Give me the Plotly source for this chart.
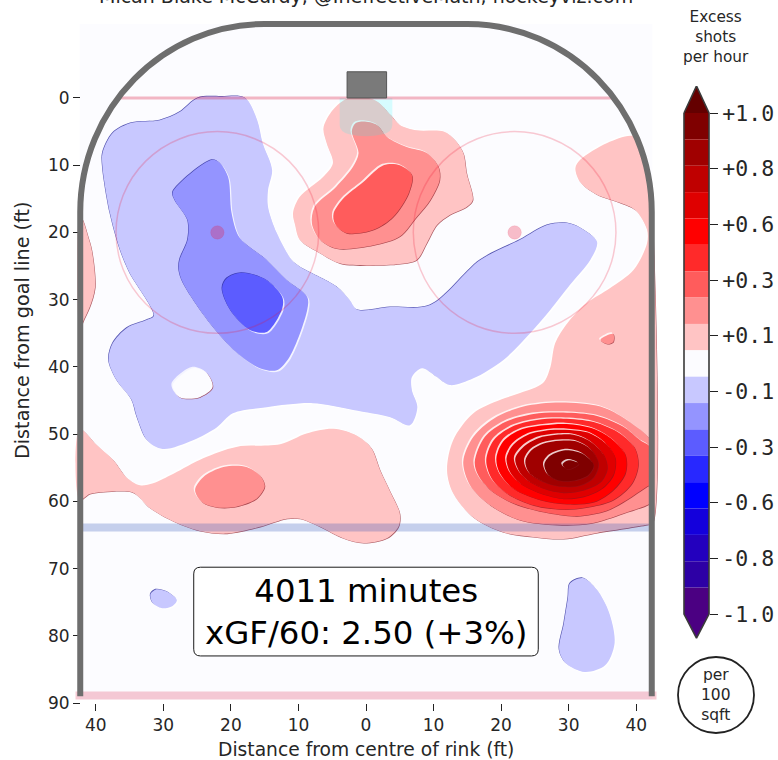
import plotly.graph_objects as go

W, H = 778, 760
V = 750
FONT = "DejaVu Sans"
MONO = "DejaVu Sans Mono"

# colour bands, top to bottom
band_colors = ["#7f0000", "#a00000", "#bf0000", "#df0000", "#ff0000", "#ff2a2a", "#ff5c5c", "#ff9090", "#ffc4c4",
               "#fcfcff", "#c8c8ff", "#9494ff", "#5c5cff", "#2828ff", "#0000ff", "#1400dc", "#2300be", "#2d00a5", "#4b0082"]
band_width = 2 / 19
tick_vals = [1.0, 7 / 9, 5 / 9, 3 / 9, 1 / 9, -1 / 9, -3 / 9, -5 / 9, -7 / 9, -1.0]
tick_text = ["+1.0", "+0.8", "+0.6", "+0.3", "+0.1", "-0.1", "-0.3", "-0.6", "-0.8", "-1.0"]
PINK, SALMON, CORAL, RED2, RED, RED3, RED4, RED5, RED6 = "#ffc4c4", "#ff9090", "#ff5c5c", "#ff2a2a", "#ff0000", "#df0000", "#bf0000", "#a00000", "#7f0000"
BG, BLUE1, BLUE2, BLUE3 = "#fcfcff", "#c8c8ff", "#9494ff", "#5c5cff"

# excess-shot contour regions, (distance from centre, distance from goal line) in ft
right_pink = [(39.6,5.7),(35.7,6.7),(31.7,9.2),(31,10.4),(31.7,12.5),(34.2,14.4),(37.6,15.6),(39.9,16.7),(41.6,19.6),(41.6,21.6),
 (39.6,25.6),(36.1,28.3),(32.7,30.5),(29.8,33.5),(28,36.5),(27.3,40),(26.2,42.4),(22.8,43.9),(19.9,44.9),(15.9,46.9),(12.9,50.9),
 (12,55.4),(12.9,58.8),(15.9,62.4),(20.3,64.6),(24.7,65.3),(29.2,65.6),(34.2,64.7),(41.6,63.5),(42.4,63.3),(42.4,17),(42,12),(41,8),(39.6,5.7)]
lower_pink = [(-42.4,49.2),(-39.9,51.6),(-37.4,53.9),(-35.5,56.4),(-33.5,57.6),(-31.5,57.3),(-28.5,55.9),(-24.1,53.6),(-19.2,51.9),
 (-12.7,51.5),(-8.8,49.9),(-4.8,49.2),(-1.4,50.2),(0.8,52.1),(2.1,55.4),(3.6,58.6),(5,61.8),(4.8,63.8),(3.1,65.5),(-0.4,66.2),
 (-3.4,65.5),(-6.8,63.8),(-9.8,62.6),(-11.7,62.6),(-15.7,63.8),(-20.6,64.8),(-24.6,64.4),(-28.5,63),(-32,61),(-34.5,58.7),
 (-38.9,58.6),(-40.9,58.9),(-42.4,59.8),(-42.4,49.2)]
left_pink = [(-42.4,17.4),(-41.9,18.2),(-41.2,20.4),(-40.6,22.6),(-40.1,28.1),(-40.9,31.1),(-41.9,33.3),(-42.4,34.5),(-42.4,17.4)]
goal_pink = [(-1.1,-0.3),(1.6,0.5),(3.6,2.5),(5,4),(7.5,4.8),(11.5,5),(13.2,6.3),(14.4,8.2),(14.9,11.2),(15.8,15.2),(14.9,16.2),
 (12.4,17.4),(10.5,18.9),(9,21.6),(7.5,24.1),(5,24.7),(0.1,24.9),(-3.9,24.6),(-6.8,23.1),(-9.8,21.1),(-10.5,18.9),(-10.8,17.1),
 (-9.8,14.7),(-6.4,11.8),(-4.9,9.7),(-5.8,6.8),(-6.3,4.5),(-5.3,2.3),(-3.4,0.4),(-1.1,-0.3)]
goal_salmon = [(-0.4,3.5),(1.6,4),(3.1,5.8),(6,7.3),(9,8.2),(10.7,10.2),(10.9,12.2),(9.5,15.2),(7.5,17.7),(5,20.6),(1.1,21.9),
 (-4.4,22.4),(-6.8,21.1),(-8,18.7),(-7.6,16.2),(-4.4,13.2),(-1.9,10.2),(-1.1,8.2),(-2.1,5),(-1.6,3.8),(-0.4,3.5)]
goal_coral = [(2.6,10),(5,10),(6.8,11.5),(6.3,14.2),(4,17.7),(1.1,19.6),(-2.9,20.1),(-4.6,18.7),(-4.8,17.2),(-3.4,15),(-0.4,12.5),(2.6,10)]
low_salmon = [(-25.3,58.3),(-24.1,56.4),(-21.1,54.9),(-17.7,54.9),(-15.5,56.4),(-15,57.8),(-16.2,59.6),(-19.2,60.8),(-22.1,60.9),(-24.3,60.1),(-25.3,58.3)]
tiny_salmon = [(34.7,36),(35.7,35.3),(36.6,35.1),(36.6,36.3),(35.7,36.6),(34.7,36)]
peak_2 = [(14.4,54.1),(15.9,50.4),(18.9,47.7),(23.3,45.9),(28.7,45.3),(34.7,45.9),(38.6,47.9),(42.1,50.9),(42.4,53.4),(42.4,59.8),
 (42.1,60.3),(38.1,61.8),(33.2,63.3),(28.2,63.5),(22.8,62.8),(18.4,60.6),(15.4,57.6),(14.4,54.1)]
peak_3 = [(16.1,54.1),(17.6,50.4),(20.6,48.2),(24.8,47),(29.2,46.8),(34.2,47.3),(38.1,48.9),(40.6,50.9),(42.1,51.9),(42.4,53.4),
 (42.4,57.3),(41.6,57.8),(38.6,59.8),(35.6,61.4),(31.2,62.2),(26.3,61.6),(21.8,60.3),(18.4,58.3),(16.6,56.1),(16.1,54.1)]
peak_4 = [(17.8,53.9),(18.9,50.9),(21.6,48.9),(25.3,47.9),(29.2,47.7),(33.7,48.2),(37.6,49.9),(39.8,52.1),(40.3,54.6),(39.4,57.3),
 (36.6,59.8),(33.2,60.8),(29.2,61.2),(24.8,60.6),(20.8,58.8),(18.6,56.6),(17.8,53.9)]
peak_5 = [(19.3,53.6),(20.3,51.1),(22.8,49.4),(26.3,48.7),(29.7,48.5),(33.7,49.2),(36.6,50.9),(38.4,53.1),(38.4,55.8),(36.6,58.3),
 (33.7,60.1),(29.7,60.4),(25.8,59.8),(21.8,58.1),(19.8,55.8),(19.3,53.6)]
peak_6 = [(20.8,53.6),(21.8,51.6),(24,50.1),(27.3,49.4),(30.2,49.4),(33.2,49.9),(35.7,51.6),(36.9,53.6),(36.6,56.1),(34.9,58.1),
 (32.2,59.3),(29.2,59.6),(25.8,58.8),(22.8,57.3),(21.3,55.6),(20.8,53.6)]
peak_7 = [(22.1,53.6),(23.3,51.9),(25.5,50.6),(28.2,50.1),(30.7,50.1),(33.2,51.1),(35.2,53.1),(35.7,55.1),(34.7,57.1),(32.2,58.3),
 (29.2,58.7),(26.3,58.1),(23.8,56.8),(22.6,55.4),(22.1,53.6)]
peak_8 = [(23.6,53.9),(24.5,52.4),(26.3,51.4),(28.7,51),(31.2,51.1),(33.4,52.4),(34.4,54.4),(33.7,56.4),(31.7,57.6),(29.2,57.8),
 (26.8,57.3),(24.5,56.1),(23.8,55.1),(23.6,53.9)]
peak_9 = [(26.4,54.5),(27.3,53.2),(29.5,52.4),(32,52.9),(33.7,54.6),(32.9,56.1),(30.9,56.9),(28.5,56.9),(27,56.1),(26.4,54.5)]
peak_10 = [(29.1,54.5),(30,53.9),(31.5,54.4),(30.5,55.1),(29.5,55.1),(29.1,54.5)]
big_blue = [(-24.9,0),(-21.3,-0.2),(-17.9,0),(-16.1,3.3),(-15.3,6.7),(-13.9,10.7),(-14.5,13.7),(-14.5,16.2),(-13.2,20.1),(-11,24.1),
 (-9.8,25.1),(-4.3,28.1),(-2.4,30.1),(-1.3,31.5),(3.6,31.1),(9.5,30.8),(16.9,24.1),(22.8,21.1),(26.8,18.9),(29.8,18.6),(31.7,19.3),
 (34.2,21.4),(33.2,24.1),(30.2,27.8),(27.3,31.5),(24.3,35),(20.3,39),(15.9,41.7),(12.4,42.7),(10.5,41.5),(8.3,40.2),(6.8,41.5),
 (6.8,43.5),(7.6,46),(6.5,48.7),(3.6,47.5),(-1.9,46.4),(-7.9,45.4),(-14.7,46),(-19.7,46.9),(-22.1,49),(-25.6,50.9),(-30.1,52.2),
 (-32.4,50.9),(-33.9,47.5),(-34.7,44.9),(-36.9,42),(-38.1,39),(-37.5,36.5),(-35.4,34.2),(-32.4,33),(-31.4,32.4),(-35,26),(-36.4,22.6),
 (-37.9,17.1),(-39,10.3),(-39,8.2),(-37.5,5.2),(-34.7,3.7),(-30.5,3.3),(-27.6,2.1),(-24.9,0)]
mid_blue = [(-22.8,9.2),(-21.6,9.7),(-20.4,11.8),(-19.9,17.1),(-18.7,20.8),(-14.7,24.1),(-11.7,27.1),(-8.7,29.6),(-8.7,31.5),(-11.3,38.5),
 (-13.2,40.5),(-15.7,40.2),(-19.1,37.9),(-23.1,33.5),(-27.1,27.5),(-27.7,25.6),(-27.6,24.1),(-26.4,21.1),(-26.4,18.2),(-28.3,15.2),(-28.6,14),(-22.8,9.2)]
deep_blue = [(-18.4,26),(-14.7,27.1),(-12.4,29.6),(-12.4,31.3),(-14.7,34.8),(-17.2,34.5),(-20.1,31.5),(-21.3,28.3),(-20.6,26.8),(-18.4,26)]
blue_hole = [(-25.6,40.2),(-23.6,40.9),(-22.7,43),(-24.6,44.5),(-27.6,44.5),(-28.6,42.7),(-25.6,40.2)]
small_blue = [(-31.9,73.8),(-31.1,73.1),(-30.2,73.2),(-29,73.7),(-28,74.7),(-28.7,75.6),(-30.2,75.9),(-31.6,75.1),(-31.9,73.8)]
tall_blue = [(30.2,72.2),(32.1,71.4),(34.2,73.2),(36,76.6),(36.8,81.1),(35.4,84.4),(32.4,85.4),(29.6,84.1),(28.6,82.1),(29.3,78.1),(29.9,74.3),(30.2,72.2)]

# (points, fill colour, raised-edge direction: +1 shadow lower right, -1 shadow upper left)
regions = [
    (right_pink, PINK, 1), (lower_pink, PINK, 1), (left_pink, PINK, 1), (goal_pink, PINK, 1),
    (goal_salmon, SALMON, 1), (goal_coral, CORAL, 1), (low_salmon, SALMON, 1), (tiny_salmon, SALMON, 1),
    (peak_2, SALMON, 1), (peak_3, CORAL, 1), (peak_4, RED2, 1), (peak_5, RED, 1), (peak_6, RED3, 1),
    (peak_7, RED4, 1), (peak_8, RED5, 1), (peak_9, RED6, 1), (peak_10, RED6, 1),
    (big_blue, BLUE1, -1), (blue_hole, BG, 1), (mid_blue, BLUE2, -1), (deep_blue, BLUE3, -1),
    (small_blue, BLUE1, -1), (tall_blue, BLUE1, -1),
]
DARK_EDGE = 0.08
LIGHT_EDGE = 0.2

x_ticks = [-40, -30, -20, -10, 0, 10, 20, 30, 40]
x_tick_text = ["40", "30", "20", "10", "0", "10", "20", "30", "40"]
y_ticks = [0, 10, 20, 30, 40, 50, 60, 70, 80, 90]

def px(v): return v / W
def py(v): return 1 - v / V

fig = go.Figure()

def poly(pts, color, dx=0.0):
    fig.add_trace(go.Scatter(
        x=[p[0] + dx for p in pts], y=[p[1] + dx for p in pts], mode="lines",
        line=dict(shape="spline", smoothing=0.9, width=0, color=color),
        fill="toself", fillcolor=color, hoverinfo="skip", showlegend=False, xaxis="x", yaxis="y"))

for pts, col, sign in regions:
    dark = "rgba(135,20,30,0.7)" if sign > 0 else "rgba(30,30,150,0.75)"
    poly(pts, dark, sign * DARK_EDGE)
    poly(pts, "rgba(255,255,255,0.8)", -sign * LIGHT_EDGE)
    poly(pts, col)

# colour bar
edges = [1 - (i + 1) * band_width for i in range(len(band_colors))]
fig.add_trace(go.Bar(x=[0.5] * 19, y=[band_width] * 19, base=edges, width=1, marker=dict(color=band_colors, line=dict(width=0)),
                     hoverinfo="skip", showlegend=False, xaxis="x2", yaxis="y2"))
fig.add_trace(go.Scatter(x=[0, 0.5, 1, 0], y=[1, 1.108, 1, 1], mode="lines", fill="toself", fillcolor="#640000", line=dict(width=0),
                         hoverinfo="skip", showlegend=False, xaxis="x2", yaxis="y2"))
fig.add_trace(go.Scatter(x=[0, 0.5, 1, 0], y=[-1, -1.096, -1, -1], mode="lines", fill="toself", fillcolor="#4b0082", line=dict(width=0),
                         hoverinfo="skip", showlegend=False, xaxis="x2", yaxis="y2"))
fig.add_trace(go.Scatter(x=[0, 0.5, 1, 1, 0.5, 0, 0], y=[1, 1.108, 1, -1, -1.096, -1, 1], mode="lines", line=dict(color="#3a3a3a", width=1.6),
                         hoverinfo="skip", showlegend=False, xaxis="x2", yaxis="y2"))

RED_LINE = "rgba(220,20,60,0.3)"
k = 0.5523
board = (f"M -42.3 89 L -42.3 17 C -42.3 {17-28*k} {-15-27.3*k} -11 -15 -11 L 15 -11 "
         f"C {15+27.3*k} -11 42.3 {17-28*k} 42.3 17 L 42.3 89")
r = 1.0
box = (f"M {-25.5+r} 69.8 L {25.5-r} 69.8 Q 25.5 69.8 25.5 {69.8+r} L 25.5 {83-r} Q 25.5 83 {25.5-r} 83 "
       f"L {-25.5+r} 83 Q -25.5 83 -25.5 {83-r} L -25.5 {69.8+r} Q -25.5 69.8 {-25.5+r} 69.8 Z")
crease = "M -3.9 0 L -3.9 4 Q -3.9 5 -2.5 5.4 Q 0 6 2.5 5.4 Q 3.9 5 3.9 4 L 3.9 0 Z"
shapes = [
    dict(type="rect", x0=-42.4, x1=42.4, y0=-11, y1=89.5, fillcolor=BG, line_width=0, layer="below"),
    dict(type="path", path=crease, fillcolor="rgba(0,255,255,0.15)", line_width=0),
    dict(type="line", x0=-36.6, x1=36.6, y0=0, y1=0, line=dict(color=RED_LINE, width=3)),
    dict(type="line", x0=-43, x1=43, y0=88.9, y1=88.9, line=dict(color="rgba(220,20,60,0.22)", width=8)),
    dict(type="line", x0=-42.4, x1=42.4, y0=63.9, y1=63.9, line=dict(color="rgba(30,70,180,0.25)", width=8)),
    dict(type="circle", x0=-37, x1=-7, y0=5, y1=35, line=dict(color="rgba(235,20,50,0.22)", width=1.5)),
    dict(type="circle", x0=7, x1=37, y0=5, y1=35, line=dict(color="rgba(235,20,50,0.22)", width=1.5)),
    dict(type="circle", x0=-23, x1=-21, y0=19, y1=21, fillcolor="rgba(235,20,60,0.28)", line=dict(color="rgba(235,20,60,0.1)", width=1)),
    dict(type="circle", x0=21, x1=23, y0=19, y1=21, fillcolor="rgba(235,20,60,0.28)", line=dict(color="rgba(235,20,60,0.1)", width=1)),
    dict(type="rect", x0=-2.8, x1=3.05, y0=-3.9, y1=0, fillcolor="#7a7a7a", line=dict(color="#555555", width=1)),
    dict(type="path", path=board, line=dict(color="#6e6e6e", width=6)),
    dict(type="path", path=box, fillcolor="white", line=dict(color="#1a1a1a", width=1)),
    dict(type="circle", xref="paper", yref="paper", x0=px(678), x1=px(754), y0=py(733), y1=py(657),
         fillcolor="white", line=dict(color="#222222", width=1.8)),
]
for s in shapes:
    s.setdefault("xref", "x"); s.setdefault("yref", "y"); s.setdefault("layer", "above")

DARK = "#262626"
def note(text, x, y, size, xref="paper", yref="paper", angle=0, family=FONT, color=DARK):
    return dict(text=text, x=x, y=y, xref=xref, yref=yref, showarrow=False, textangle=angle,
                xanchor="center", yanchor="middle", font=dict(family=family, size=size, color=color))

annotations = [
    note("Micah Blake McCurdy, @IneffectiveMath, hockeyviz.com", px(366), py(-4), 19),
    note("Distance from centre of rink (ft)", px(366), py(749), 18.7),
    note("Distance from goal line (ft)", px(23), py(330), 19.2, angle=-90),
    note("Excess<br>shots<br>per hour", px(716), py(37), 15.3),
    note("per<br>100<br>sqft", px(716), py(695), 15.5),
    note("4011 minutes<br>xGF/60: 2.50 (+3%)", 0, 76.4, 32.4, xref="x", yref="y", color="black"),
]

fig.update_layout(
    width=W, height=H, margin=dict(l=0, r=0, t=0, b=0), paper_bgcolor="white", plot_bgcolor="rgba(0,0,0,0)",
    shapes=shapes, annotations=annotations, showlegend=False,
    xaxis=dict(domain=[px(62), px(670)], range=[-45, 45], tickmode="array", tickvals=x_ticks, ticktext=x_tick_text,
               ticks="outside", ticklen=7, tickwidth=1, tickcolor="#222222", showgrid=False, zeroline=False, showline=False,
               tickfont=dict(family=FONT, size=17, color=DARK), anchor="y"),
    yaxis=dict(domain=[py(703), py(10.6)], range=[90, -13], tickmode="array", tickvals=y_ticks,
               ticks="outside", ticklen=7, tickwidth=1, tickcolor="#222222", showgrid=False, zeroline=False, showline=False,
               tickfont=dict(family=FONT, size=17, color=DARK), anchor="free", position=px(80), side="left"),
    xaxis2=dict(domain=[px(679), px(714)], range=[-0.2, 1.2], visible=False, anchor="y2", fixedrange=True),
    yaxis2=dict(domain=[py(641), py(86)], range=[-1.1078, 1.1078], tickmode="array", tickvals=tick_vals, ticktext=tick_text,
                ticks="outside", ticklen=8, tickwidth=1, tickcolor="#222222", showgrid=False, zeroline=False, showline=False,
                tickfont=dict(family=MONO, size=21.5, color=DARK), anchor="free", position=px(709), side="right"),
)

fig.write_html("out.html", config={"displayModeBar": False}, post_script="document.body.style.margin='0';")
